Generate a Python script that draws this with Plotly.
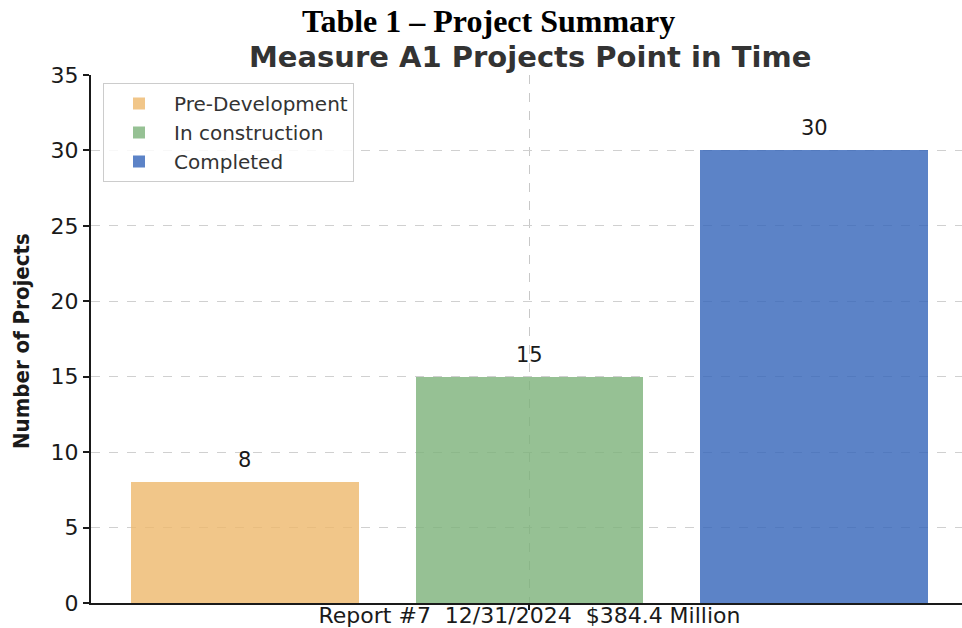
import numpy as np
import plotly.graph_objects as go

# ---- data ----
series_names = ["Pre-Development", "In construction", "Completed"]
series_values = [8, 15, 30]
series_colors = ["rgba(238,184,108,0.8)", "rgba(124,178,121,0.8)", "rgba(51,100,185,0.8)"]
xtick_labels = ["Report #7  12/31/2024  $384.4 Million"]
ytick_values = [0, 5, 10, 15, 20, 25, 30, 35]

W, H = 962, 628
ML, MR, MT, MB = 91, 0, 75, 25

n = len(series_values)
positions = np.arange(n) - (n - 1) / 2.0

fig = go.Figure()
for name, pos, val, col in zip(series_names, positions, series_values, series_colors):
    fig.add_trace(go.Bar(
        x=[pos], y=[val], name=name, width=0.8,
        marker=dict(color=col, line=dict(width=0)),
        hoverinfo="skip",
    ))
    fig.add_annotation(
        x=pos, y=val, text=str(val), showarrow=False,
        yanchor="bottom", yshift=8,
        font=dict(family="DejaVu Sans", size=21, color="#1a1a1a"),
    )

plot_w = W - ML - MR
plot_h = H - MT - MB

def px_to_paper_x(px):
    return (px - ML) / plot_w

def px_to_paper_y(py):
    return (H - MB - py) / plot_h

fig.add_annotation(
    xref="paper", yref="paper", x=px_to_paper_x(488), y=px_to_paper_y(21),
    text="<b>Table 1 – Project Summary</b>", showarrow=False,
    xanchor="center", yanchor="middle",
    font=dict(family="Liberation Serif", size=32, color="black"),
)
fig.add_annotation(
    xref="paper", yref="paper", x=px_to_paper_x(530), y=px_to_paper_y(57),
    text="<b>Measure A1 Projects Point in Time</b>", showarrow=False,
    xanchor="center", yanchor="middle",
    font=dict(family="DejaVu Sans", size=29, color="#333333"),
)
fig.add_annotation(
    xref="paper", yref="paper", x=px_to_paper_x(21), y=px_to_paper_y(341),
    text="<b>Number of Projects</b>", showarrow=False, textangle=-90,
    xanchor="center", yanchor="middle",
    font=dict(family="DejaVu Sans Condensed, DejaVu Sans", size=22, color="#1a1a1a"),
)

fig.update_layout(
    width=W, height=H,
    margin=dict(l=ML, r=MR, t=MT, b=MB, autoexpand=False),
    paper_bgcolor="white", plot_bgcolor="white",
    showlegend=True,
    bargap=0,
    legend=dict(
        x=px_to_paper_x(103), y=px_to_paper_y(83), xanchor="left", yanchor="top",
        bgcolor="rgba(255,255,255,0.85)", bordercolor="#cccccc", borderwidth=1,
        font=dict(family="DejaVu Sans", size=20, color="#333333"),
        itemwidth=60,
    ),
    xaxis=dict(
        range=[-1.54, 1.519], tickmode="array", tickvals=[0], ticktext=xtick_labels,
        showgrid=True, gridcolor="#c8c8c8", griddash="dash", gridwidth=1,
        showline=True, linecolor="#1a1a1a", linewidth=2,
        ticks="outside", ticklen=5, tickwidth=1.5, tickcolor="#1a1a1a",
        tickfont=dict(family="DejaVu Sans", size=22, color="#1a1a1a"),
        ticklabelstandoff=-13,
        zeroline=False, fixedrange=True,
    ),
    yaxis=dict(
        range=[0, 35], tickmode="array", tickvals=ytick_values,
        showgrid=True, gridcolor="#d0d0d0", griddash="dash", gridwidth=1,
        showline=True, linecolor="#1a1a1a", linewidth=2,
        ticks="outside", ticklen=6, tickwidth=1.5, tickcolor="#1a1a1a",
        tickfont=dict(family="DejaVu Sans", size=22, color="#1a1a1a"),
        zeroline=False, fixedrange=True,
    ),
)

fig.write_html(
    "out.html",
    config={"displayModeBar": False},
    post_script="document.body.style.margin='0';document.body.style.padding='0';",
)
